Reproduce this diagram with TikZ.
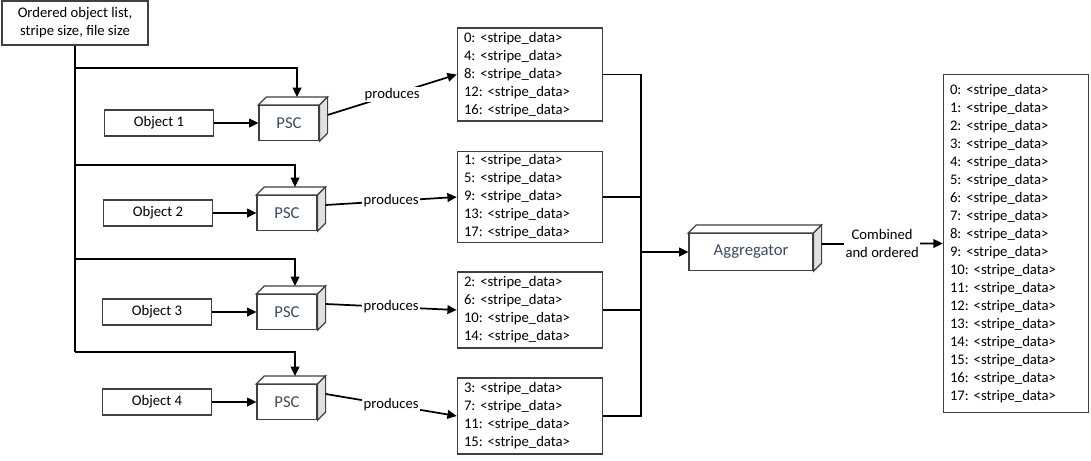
\documentclass[tikz,border=0pt]{standalone}
\usepackage{fontspec}
\setmainfont{Carlito}
\usepackage{xcolor}
\usetikzlibrary{arrows.meta}
\frenchspacing

\definecolor{psctext}{HTML}{3F4A63}

\begin{document}
\begin{tikzpicture}[x=0.75pt,y=-0.75pt,>={Triangle[length=7pt,width=6.5pt]},
    every node/.style={font=\fontsize{11}{13.5}\selectfont},
    plainbox/.style={draw=black!75,line width=0.9pt,fill=white,inner sep=2pt},
    objbox/.style={plainbox,minimum width=82pt,minimum height=19.5pt},
    cubebox/.style={plainbox,minimum width=45pt,minimum height=26.25pt,
      font=\fontsize{12.5}{15}\selectfont,text=psctext},
    databox/.style={plainbox,align=left,text width=99pt,inner xsep=5pt},
    link/.style={line width=1.3pt},
    tag/.style={fill=white,inner sep=1pt}]
    \useasboundingbox (0,0) rectangle (1091,460);

    % Top and sides of a box drawn in 3D
    \def\cubefaces#1{%
      \draw[line width=0.9pt,draw=black!75,fill=white] (#1.north west) -- ++(6pt,6pt)
        -- ([shift={(6pt,6pt)}]#1.north east) -- (#1.north east) -- cycle;
      \draw[line width=0.9pt,draw=black!75,fill=black!12] (#1.north east) -- ++(6pt,6pt)
        -- ([shift={(6pt,6pt)}]#1.south east) -- (#1.south east) -- cycle;
      \coordinate (#1-top) at ([shift={(6pt,6pt)}]#1.north);
      \coordinate (#1-out) at ([shift={(6pt,6pt)}]#1.east);
    }

    % Input list
    \node[plainbox,align=center,minimum width=109.5pt,minimum height=33pt] (list) at (75,23)
      {Ordered object list,\\stripe size, file size};

    % Objects
    \node[objbox] (obj1) at (159,123) {Object 1};
    \node[objbox] (obj2) at (158,213) {Object 2};
    \node[objbox] (obj3) at (157,312) {Object 3};
    \node[objbox] (obj4) at (157,402) {Object 4};

    % Stripe calculators
    \node[cubebox] (psc1) at (289,123) {PSC};
    \node[cubebox] (psc2) at (287,213) {PSC};
    \node[cubebox] (psc3) at (287,312) {PSC};
    \node[cubebox] (psc4) at (287,402) {PSC};
    \cubefaces{psc1}
    \cubefaces{psc2}
    \cubefaces{psc3}
    \cubefaces{psc4}

    % Stripe lists
    \node[databox,minimum height=69.75pt] (data1) at (530,74.5)
      {0: <stripe\_data>\\4: <stripe\_data>\\8: <stripe\_data>\\12: <stripe\_data>\\16: <stripe\_data>};
    \node[databox,minimum height=68.25pt] (data2) at (530,197)
      {1: <stripe\_data>\\5: <stripe\_data>\\9: <stripe\_data>\\13: <stripe\_data>\\17: <stripe\_data>};
    \node[databox,minimum height=57pt] (data3) at (530,310)
      {2: <stripe\_data>\\6: <stripe\_data>\\10: <stripe\_data>\\14: <stripe\_data>};
    \node[databox,minimum height=57pt] (data4) at (530,416)
      {3: <stripe\_data>\\7: <stripe\_data>\\11: <stripe\_data>\\15: <stripe\_data>};

    % Aggregator and result
    \node[cubebox,minimum width=93pt,minimum height=27.75pt] (agg) at (751,252) {Aggregator};
    \cubefaces{agg}
    \node[databox,minimum height=254pt] (result) at (1016,243.5)
      {0: <stripe\_data>\\1: <stripe\_data>\\2: <stripe\_data>\\3: <stripe\_data>\\
       4: <stripe\_data>\\5: <stripe\_data>\\6: <stripe\_data>\\7: <stripe\_data>\\
       8: <stripe\_data>\\9: <stripe\_data>\\10: <stripe\_data>\\11: <stripe\_data>\\
       12: <stripe\_data>\\13: <stripe\_data>\\14: <stripe\_data>\\15: <stripe\_data>\\
       16: <stripe\_data>\\17: <stripe\_data>};

    % Trunk from the input list
    \coordinate (branch1) at (75,68);
    \coordinate (branch2) at (75,165);
    \coordinate (branch3) at (75,259);
    \coordinate (branch4) at (75,352);
    \draw[link] (list.south) -- (branch4);
    \draw[link,->] (branch1) -| (psc1-top);
    \draw[link,->] (branch2) -| (psc2-top);
    \draw[link,->] (branch3) -| (psc3-top);
    \draw[link,->] (branch4) -| (psc4-top);

    % Objects into calculators
    \draw[link,->] (obj1) -- (psc1);
    \draw[link,->] (obj2) -- (psc2);
    \draw[link,->] (obj3) -- (psc3);
    \draw[link,->] (obj4) -- (psc4);

    % Calculators produce stripe lists
    \draw[link,->] (psc1-out) -- node[tag] {produces} (data1.west);
    \draw[link,->] (psc2-out) -- node[tag] {produces} (data2.west);
    \draw[link,->] (psc3-out) -- node[tag] {produces} (data3.west);
    \draw[link,->] (psc4-out) -- node[tag] {produces} (data4.west);

    % Collect into aggregator
    \coordinate (bus) at (641,252);
    \draw[link] (data1.east) -| (bus);
    \draw[link] (data2.east) -| (bus);
    \draw[link] (data3.east) -| (bus);
    \draw[link] (data4.east) -| (bus);
    \draw[link,->] (bus) -- (agg);

    \draw[link,->] (agg-out) -- node[tag,align=center] {Combined\\and ordered} (result.west);
  \end{tikzpicture}
\end{document}
